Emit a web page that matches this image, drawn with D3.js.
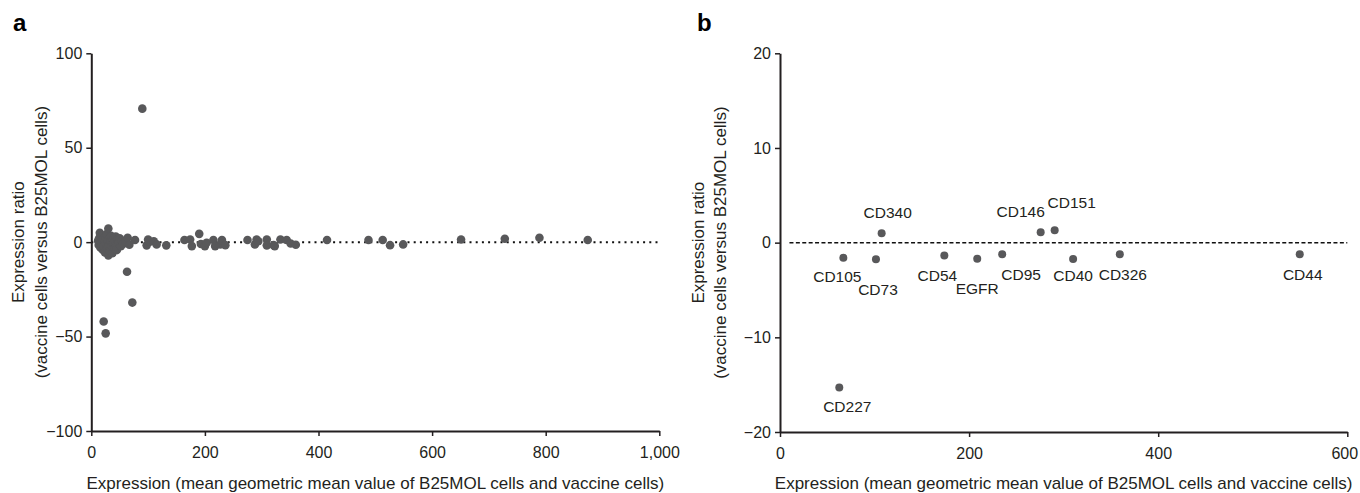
<!DOCTYPE html>
<html>
<head>
<meta charset="utf-8">
<script src="https://cdn.jsdelivr.net/npm/d3@7"></script>
<style>
    body { margin: 0; background: #fff; }
    svg text { font-family: "Liberation Sans", Arial, sans-serif; fill: #231f20; }
</style>
</head>
<body>
<div id="fig"></div>
<script>
// ---- panel a : all markers ----
let exprA = [12, 13, 14, 15, 16, 17, 18, 19, 20, 21, 22, 23, 24, 25, 26, 27, 28, 29, 30, 30,
    31, 32, 33, 34, 35, 36, 37, 38, 39, 40, 41, 42, 43, 44, 45, 46, 48, 50, 52, 54, 56,
    21.8, 25.3, 62.9, 72.2, 89.8,
    60, 64, 67, 77, 97.5, 100, 103, 110, 115, 132,
    164, 174, 177, 190, 193, 200, 203, 215, 218, 227, 230, 236,
    275, 288, 291, 294, 309, 309, 321, 323, 333, 344, 351, 360,
    415, 488, 513, 526, 549, 651, 728, 789, 874]
let ratioA = [0.8, -1.5, 2.2, 5.0, -2.8, 0.2, -0.9, 3.4, -4.0, 1.4, -2.0, 0.5, -5.4, 2.7, -0.7, 4.3, -3.1, 1.0, 7.2, -7.0,
    -1.6, 2.4, -4.6, 0.3, 3.3, -2.4, -5.8, 1.3, -1.0, 2.2, -3.4, 0.6, 3.0, -1.8, -4.2, 1.5, -0.6, 2.0, -2.2, 0.9, -1.0,
    -42, -48.3, -15.7, -32, 70.7,
    0.3, 2.3, -1.4, 1.1, -1.7, 1.4, 0.2, 0.5, -1.2, -1.7,
    1.1, 1.4, -2.1, 4.4, -1.0, -2.1, -0.3, 1.1, -2.1, -1.2, 1.1, -1.6,
    1.1, -1.2, 1.4, 0.5, 1.4, -1.7, -1.6, -2.1, 1.4, 1.1, -0.7, -1.4,
    1.1, 1.1, 1.1, -1.6, -1.2, 1.4, 1.8, 2.3, 1.1]
let ticksAX = [0, 200, 400, 600, 800, 1000]
let ticksAY = [-100, -50, 0, 50, 100]

// ---- panel b : selected markers ----
let markersB = ["CD105", "CD227", "CD73", "CD340", "CD54", "EGFR", "CD95", "CD146", "CD151", "CD40", "CD326", "CD44"]
let exprB = [67, 62.7, 101.5, 107.5, 173.8, 208.6, 235, 275.7, 290.5, 310, 359.4, 549.7]
let ratioB = [-1.6, -15.3, -1.76, 1.0, -1.37, -1.7, -1.23, 1.1, 1.3, -1.73, -1.23, -1.23]
let ticksBX = [0, 200, 400, 600]
let ticksBY = [-20, -10, 0, 10, 20]

let xTitle = "Expression (mean geometric mean value of B25MOL cells and vaccine cells)"
let yTitle = ["Expression ratio", "(vaccine cells versus B25MOL cells)"]

// where each marker name sits relative to its dot (centre dx, baseline dy)
let labelNudge = {
    CD105: [-6, 24], CD227: [8, 24], CD73: [2, 36], CD340: [6, -15], CD54: [-7, 25], EGFR: [0, 35],
    CD95: [19, 26], CD146: [-20, -15], CD151: [17, -22], CD40: [0, 22], CD326: [3, 26], CD44: [3, 26]
}

let svg = d3.select("#fig").append("svg")
    .attr("width", 1360)
    .attr("height", 493)

class scatterVis {

    constructor(svg, cfg) {
        this.svg = svg
        this.cfg = cfg
        this.initVis()
    }

    initVis() {
        let vis = this
        let c = vis.cfg

        vis.x = d3.scaleLinear().domain(c.xDomain).range([c.left, c.right])
        vis.y = d3.scaleLinear().domain(c.yDomain).range([c.bottom, c.top])

        vis.g = vis.svg.append("g")

        // zero reference line
        vis.g.append("line")
            .attr("x1", vis.x(c.lineFrom))
            .attr("x2", vis.x(c.xDomain[1]))
            .attr("y1", vis.y(0))
            .attr("y2", vis.y(0))
            .attr("stroke", "#111")
            .attr("stroke-width", c.lineWidth)
            .attr("stroke-dasharray", c.dash)

        // axes
        let xAxis = d3.axisBottom(vis.x).tickValues(c.xTicks).tickSize(5).tickSizeOuter(0).tickPadding(11)
            .tickFormat(d3.format(","))
        let yAxis = d3.axisLeft(vis.y).tickValues(c.yTicks).tickSize(5).tickSizeOuter(0).tickPadding(4)

        let gx = vis.g.append("g")
            .attr("transform", `translate(0, ${c.bottom})`)
            .call(xAxis)
            .call(g => vis.styleAxis(g))
        vis.g.append("g")
            .attr("transform", `translate(${c.left}, 0)`)
            .call(yAxis)
            .call(g => vis.styleAxis(g))

        // last x label hugs the page edge, pull it in a little
        if (c.lastTickShift) {
            gx.selectAll(".tick text").filter(d => d === c.xDomain[1]).attr("dx", c.lastTickShift)
        }

        // dots
        vis.g.selectAll(".dot")
            .data(c.xs.map((d, i) => ({x: d, y: c.ys[i]})))
            .enter().append("circle")
            .attr("class", "dot")
            .attr("cx", d => vis.x(d.x))
            .attr("cy", d => vis.y(d.y))
            .attr("r", c.r)
            .attr("fill", "#58585a")

        // marker names
        if (c.names) {
            vis.g.selectAll(".lbl")
                .data(c.names)
                .enter().append("text")
                .attr("class", "lbl")
                .attr("x", (d, i) => vis.x(c.xs[i]) + labelNudge[d][0])
                .attr("y", (d, i) => vis.y(c.ys[i]) + labelNudge[d][1])
                .attr("text-anchor", "middle")
                .attr("font-size", 15.5)
                .text(d => d)
        }

        // axis titles
        vis.g.append("text")
            .attr("x", (c.left + c.right) / 2)
            .attr("y", 489)
            .attr("text-anchor", "middle")
            .attr("font-size", 17)
            .text(xTitle)

        yTitle.forEach((t, i) => {
            vis.g.append("text")
                .attr("transform", `translate(${c.yTitleX[i]}, ${(c.top + c.bottom) / 2}) rotate(-90)`)
                .attr("text-anchor", "middle")
                .attr("font-size", 17)
                .text(t)
        })

        // panel letter
        vis.g.append("text")
            .attr("x", c.letterX)
            .attr("y", 31)
            .attr("font-size", 24)
            .attr("font-weight", "bold")
            .style("fill", "#000")
            .text(c.letter)
    }

    styleAxis(g) {
        g.select(".domain").attr("stroke", "#231f20").attr("stroke-width", 2)
        g.selectAll(".tick line").attr("stroke", "#231f20").attr("stroke-width", 1.5)
        g.selectAll(".tick text").attr("font-size", 16).style("font-family", '"Liberation Sans", Arial, sans-serif').attr("fill", "#231f20")
    }
}

new scatterVis(svg, {
    letter: "a", letterX: 13,
    xs: exprA, ys: ratioA, r: 4.3,
    xDomain: [0, 1000], yDomain: [-100, 100],
    xTicks: ticksAX, yTicks: ticksAY,
    left: 91.3, right: 659.3, top: 53.3, bottom: 431,
    lineFrom: 0, dash: "2,4.2", lineWidth: 2,
    yTitleX: [24, 46.5]
})

new scatterVis(svg, {
    letter: "b", letterX: 697,
    xs: exprB, ys: ratioB, names: markersB, r: 4,
    xDomain: [0, 600], yDomain: [-20, 20],
    xTicks: ticksBX, yTicks: ticksBY,
    left: 780, right: 1347.3, top: 53.3, bottom: 432,
    lineFrom: 10, dash: "4,2.4", lineWidth: 1.5,
    yTitleX: [704, 725.5], lastTickShift: -3
})
</script>
</body>
</html>
